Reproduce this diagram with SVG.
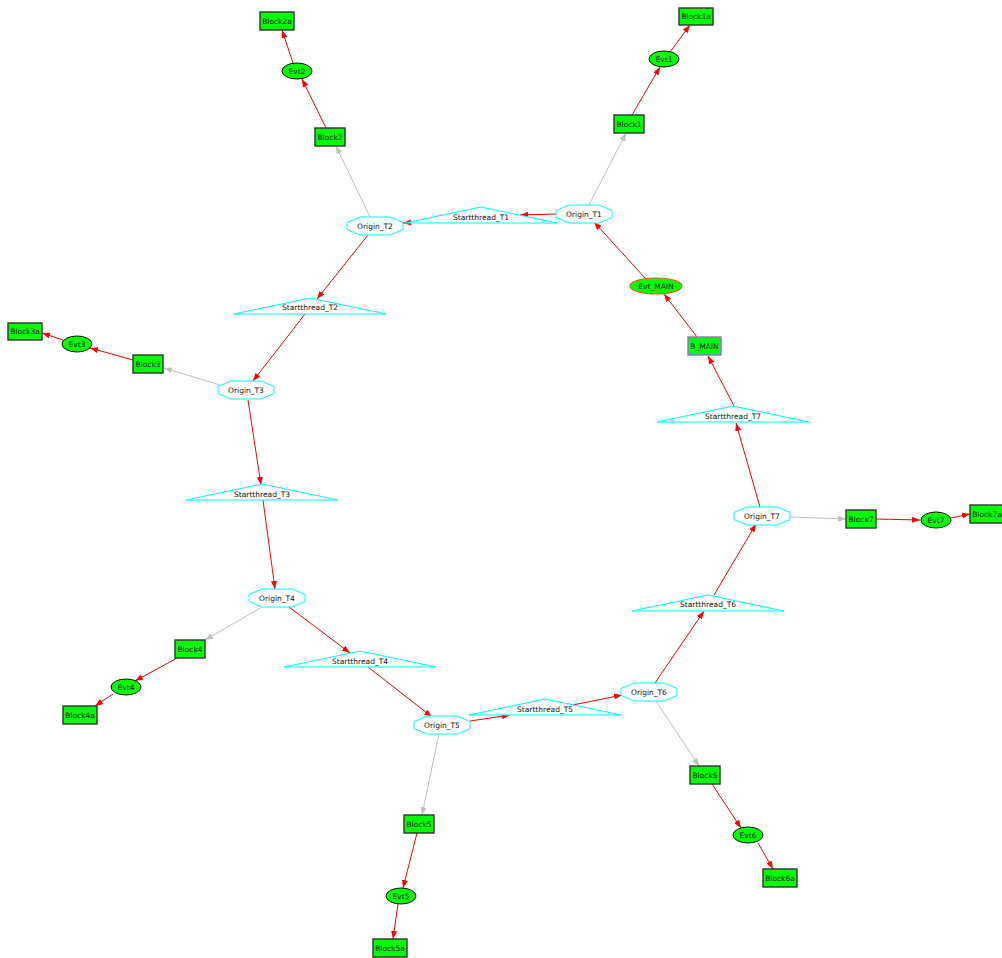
<svg xmlns="http://www.w3.org/2000/svg" width="1002" height="958" viewBox="0 0 1002 958">
<style>
text{font-family:"DejaVu Sans","Liberation Sans",sans-serif;font-size:7.5px;fill:#111;text-anchor:middle;dominant-baseline:central}
.box{fill:#00ff00;stroke:#333;stroke-width:1.4}
.evt{fill:#00ff00;stroke:#111;stroke-width:1}
.oct{fill:#fff;stroke:#00ffff;stroke-width:1}
.tri{fill:#fff;stroke:#00ffff;stroke-width:1}
.r{stroke:#ff0000;stroke-width:1;fill:none;marker-end:url(#ar)}
.g{stroke:#c0c0c0;stroke-width:1;fill:none;marker-end:url(#ag)}
</style>
<defs>
<marker id="ar" markerUnits="userSpaceOnUse" markerWidth="9" markerHeight="7" refX="8" refY="3" orient="auto"><path d="M0,0L8,3L0,6z" fill="#ff0000"/></marker>
<marker id="ag" markerUnits="userSpaceOnUse" markerWidth="9" markerHeight="7" refX="8" refY="3" orient="auto"><path d="M0,0L8,3L0,6z" fill="#c0c0c0"/></marker>
<polygon id="octs" points="-15,-9 15,-9 28,-3.5 28,3.5 15,9 -15,9 -28,3.5 -28,-3.5"/>
<polygon id="tris" points="0,-8 76,8 -76,8"/>
</defs>
<rect width="1002" height="958" fill="#fff"/>
<g id="connectors">
<line class="g" x1="589" y1="205" x2="626" y2="133"/>
<line class="g" x1="370" y1="217" x2="336" y2="146"/>
<line class="g" x1="220" y1="385" x2="164" y2="368"/>
<line class="g" x1="262" y1="607" x2="205" y2="640"/>
<line class="g" x1="439" y1="734" x2="422" y2="815"/>
<line class="g" x1="656" y1="701" x2="699" y2="766"/>
<line class="g" x1="790" y1="517" x2="846" y2="519"/>
<line class="r" x1="556" y1="214" x2="520" y2="215"/>
<line class="r" x1="420" y1="222" x2="403" y2="223"/>
<line class="r" x1="645" y1="278" x2="594" y2="222"/>
<line class="r" x1="697" y1="337" x2="664" y2="294"/>
<line class="r" x1="734" y1="406" x2="708" y2="356"/>
<line class="r" x1="760" y1="507" x2="736" y2="423"/>
<line class="r" x1="655" y1="683" x2="704" y2="611"/>
<line class="r" x1="714" y1="595" x2="756" y2="524"/>
<line class="r" x1="470" y1="721" x2="510" y2="715"/>
<line class="r" x1="573" y1="705" x2="622" y2="695"/>
<line class="r" x1="289" y1="607" x2="350" y2="653"/>
<line class="r" x1="368" y1="667" x2="432" y2="717"/>
<line class="r" x1="248" y1="400" x2="261" y2="485"/>
<line class="r" x1="263" y1="500" x2="275" y2="589"/>
<line class="r" x1="368" y1="235" x2="317" y2="299"/>
<line class="r" x1="305" y1="314" x2="253" y2="381"/>
<line class="r" x1="632" y1="115" x2="660" y2="67"/>
<line class="r" x1="670" y1="52" x2="690" y2="25"/>
<line class="r" x1="326" y1="128" x2="302" y2="79"/>
<line class="r" x1="293" y1="63" x2="282" y2="30"/>
<line class="r" x1="133" y1="360" x2="90" y2="348"/>
<line class="r" x1="63" y1="340" x2="42" y2="333"/>
<line class="r" x1="177" y1="658" x2="135" y2="681"/>
<line class="r" x1="113" y1="694" x2="95" y2="706"/>
<line class="r" x1="417" y1="833" x2="403" y2="888"/>
<line class="r" x1="398" y1="904" x2="393" y2="939"/>
<line class="r" x1="712" y1="784" x2="741" y2="828"/>
<line class="r" x1="758" y1="843" x2="773" y2="869"/>
<line class="r" x1="876" y1="519" x2="920" y2="520"/>
<line class="r" x1="951" y1="518" x2="970" y2="514"/>
</g>
<g id="Origin_T1" transform="translate(584,214)"><use href="#octs" class="oct"/><text>Origin_T1</text></g>
<g id="Origin_T2" transform="translate(375,226)"><use href="#octs" class="oct"/><text>Origin_T2</text></g>
<g id="Origin_T3" transform="translate(246,390)"><use href="#octs" class="oct"/><text>Origin_T3</text></g>
<g id="Origin_T4" transform="translate(277,598)"><use href="#octs" class="oct"/><text>Origin_T4</text></g>
<g id="Origin_T5" transform="translate(442,725)"><use href="#octs" class="oct"/><text>Origin_T5</text></g>
<g id="Origin_T6" transform="translate(649,692)"><use href="#octs" class="oct"/><text>Origin_T6</text></g>
<g id="Origin_T7" transform="translate(762,516)"><use href="#octs" class="oct"/><text>Origin_T7</text></g>
<g id="Startthread_T1" transform="translate(481,215)"><use href="#tris" class="tri"/><text y="2">Startthread_T1</text></g>
<g id="Startthread_T2" transform="translate(310,306)"><use href="#tris" class="tri"/><text y="1.5">Startthread_T2</text></g>
<g id="Startthread_T3" transform="translate(262,492)"><use href="#tris" class="tri"/><text y="2">Startthread_T3</text></g>
<g id="Startthread_T4" transform="translate(360,659)"><use href="#tris" class="tri"/><text y="2">Startthread_T4</text></g>
<g id="Startthread_T5" transform="translate(545,707)"><use href="#tris" class="tri"/><text y="2">Startthread_T5</text></g>
<g id="Startthread_T6" transform="translate(708,603)"><use href="#tris" class="tri"/><text y="1.5">Startthread_T6</text></g>
<g id="Startthread_T7" transform="translate(733,414)"><use href="#tris" class="tri"/><text y="2">Startthread_T7</text></g>
<g id="Evt_MAIN"><ellipse cx="656" cy="286" rx="26" ry="8" fill="#00ff00" stroke="#d2691e" stroke-width="1.2"/><text x="656" y="286">Evt_MAIN</text></g>
<g id="B_MAIN"><rect x="688" y="337" width="33" height="18" fill="#00ff00" stroke="#9370db" stroke-width="1.4"/><text x="704.5" y="346">B_MAIN</text></g>
<g id="Block1"><rect class="box" x="614" y="115" width="30" height="18"/><text x="629" y="124">Block1</text></g>
<g id="Evt1"><ellipse class="evt" cx="664" cy="59" rx="15" ry="8"/><text x="664" y="59">Evt1</text></g>
<g id="Block1a"><rect class="box" x="679" y="8" width="34" height="17"/><text x="696" y="16.5">Block1a</text></g>
<g id="Block2"><rect class="box" x="315" y="128" width="30" height="18"/><text x="330" y="137">Block2</text></g>
<g id="Evt2"><ellipse class="evt" cx="297" cy="71" rx="15" ry="8"/><text x="297" y="71">Evt2</text></g>
<g id="Block2a"><rect class="box" x="260" y="12" width="34" height="18"/><text x="277" y="21">Block2a</text></g>
<g id="Block3"><rect class="box" x="133" y="355" width="30" height="18"/><text x="148" y="364">Block3</text></g>
<g id="Evt3"><ellipse class="evt" cx="77" cy="344" rx="15" ry="8"/><text x="77" y="344">Evt3</text></g>
<g id="Block3a"><rect class="box" x="8" y="323" width="34" height="17"/><text x="25" y="331.5">Block3a</text></g>
<g id="Block4"><rect class="box" x="175" y="640" width="30" height="18"/><text x="190" y="649">Block4</text></g>
<g id="Evt4"><ellipse class="evt" cx="126" cy="687" rx="15" ry="8"/><text x="126" y="687">Evt4</text></g>
<g id="Block4a"><rect class="box" x="63" y="706" width="34" height="18"/><text x="80" y="715">Block4a</text></g>
<g id="Block5"><rect class="box" x="404" y="815" width="30" height="18"/><text x="419" y="824">Block5</text></g>
<g id="Evt5"><ellipse class="evt" cx="401" cy="896" rx="15" ry="8"/><text x="401" y="896">Evt5</text></g>
<g id="Block5a"><rect class="box" x="373" y="939" width="34" height="18"/><text x="390" y="948">Block5a</text></g>
<g id="Block6"><rect class="box" x="690" y="766" width="30" height="18"/><text x="705" y="775">Block6</text></g>
<g id="Evt6"><ellipse class="evt" cx="748" cy="835" rx="15" ry="8"/><text x="748" y="835">Evt6</text></g>
<g id="Block6a"><rect class="box" x="763" y="869" width="34" height="18"/><text x="780" y="878">Block6a</text></g>
<g id="Block7"><rect class="box" x="846" y="510" width="30" height="18"/><text x="861" y="519">Block7</text></g>
<g id="Evt7"><ellipse class="evt" cx="936" cy="520" rx="15" ry="8"/><text x="936" y="520">Evt7</text></g>
<g id="Block7a"><rect class="box" x="970" y="505" width="34" height="18"/><text x="987" y="514">Block7a</text></g>
</svg>
